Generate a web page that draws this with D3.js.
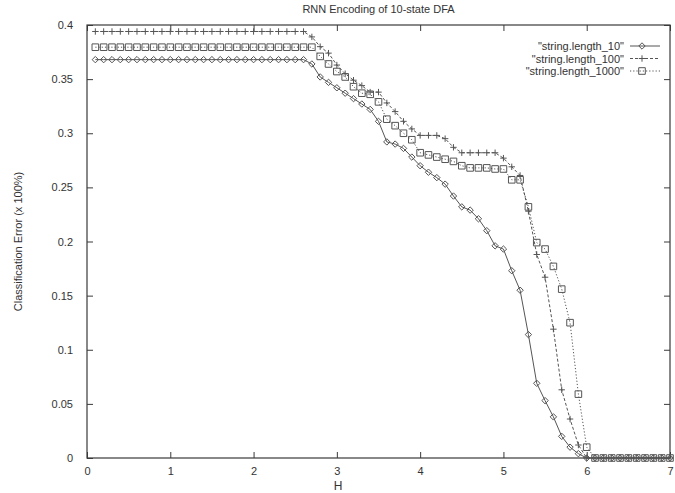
<!DOCTYPE html>
<html>
<head>
<meta charset="utf-8">
<script src="https://cdn.jsdelivr.net/npm/d3@7"></script>
<style>
  html, body { margin: 0; padding: 0; background: #fff; }
  svg text { font-family: "Liberation Sans", Arial, Helvetica, sans-serif; fill: #333; }
</style>
</head>
<body>
<svg id="chart" width="675" height="493"></svg>
<script>
// Hidden-unit count H (x axis)
const hValues = [
  0.1, 0.2, 0.3, 0.4, 0.5, 0.6, 0.7, 0.8, 0.9, 1.0,
  1.1, 1.2, 1.3, 1.4, 1.5, 1.6, 1.7, 1.8, 1.9, 2.0,
  2.1, 2.2, 2.3, 2.4, 2.5, 2.6, 2.7, 2.8, 2.9, 3.0,
  3.1, 3.2, 3.3, 3.4, 3.5, 3.6, 3.7, 3.8, 3.9, 4.0,
  4.1, 4.2, 4.3, 4.4, 4.5, 4.6, 4.7, 4.8, 4.9, 5.0,
  5.1, 5.2, 5.3, 5.4, 5.5, 5.6, 5.7, 5.8, 5.9, 6.0,
  6.1, 6.2, 6.3, 6.4, 6.5, 6.6, 6.7, 6.8, 6.9, 7.0
];

// Classification error for string length 10
const errLen10 = [
  0.368, 0.368, 0.368, 0.368, 0.368, 0.368, 0.368, 0.368, 0.368, 0.368,
  0.368, 0.368, 0.368, 0.368, 0.368, 0.368, 0.368, 0.368, 0.368, 0.368,
  0.368, 0.368, 0.368, 0.368, 0.368, 0.368, 0.364, 0.352, 0.347, 0.342,
  0.337, 0.332, 0.327, 0.322, 0.311, 0.292, 0.290, 0.286, 0.278, 0.270,
  0.264, 0.259, 0.253, 0.242, 0.232, 0.229, 0.221, 0.210, 0.196, 0.193,
  0.173, 0.155, 0.114, 0.069, 0.053, 0.038, 0.020, 0.010, 0.004, 0,
  0, 0, 0, 0, 0, 0, 0, 0, 0, 0
];

// Classification error for string length 100
const errLen100 = [
  0.394, 0.394, 0.394, 0.394, 0.394, 0.394, 0.394, 0.394, 0.394, 0.394,
  0.394, 0.394, 0.394, 0.394, 0.394, 0.394, 0.394, 0.394, 0.394, 0.394,
  0.394, 0.394, 0.394, 0.394, 0.394, 0.394, 0.389, 0.380, 0.374, 0.363,
  0.355, 0.349, 0.344, 0.338, 0.338, 0.328, 0.320, 0.311, 0.304, 0.298,
  0.298, 0.298, 0.295, 0.287, 0.282, 0.282, 0.282, 0.282, 0.282, 0.277,
  0.269, 0.261, 0.228, 0.188, 0.167, 0.119, 0.063, 0.036, 0.012, 0,
  0, 0, 0, 0, 0, 0, 0, 0, 0, 0
];

// Classification error for string length 1000
const errLen1000 = [
  0.3795, 0.3795, 0.3795, 0.3795, 0.3795, 0.3795, 0.3795, 0.3795, 0.3795, 0.3795,
  0.3795, 0.3795, 0.3795, 0.3795, 0.3795, 0.3795, 0.3795, 0.3795, 0.3795, 0.3795,
  0.3795, 0.3795, 0.3795, 0.3795, 0.3795, 0.3795, 0.3795, 0.371, 0.364, 0.357,
  0.352, 0.343, 0.337, 0.336, 0.329, 0.313, 0.307, 0.300, 0.294, 0.282,
  0.280, 0.278, 0.276, 0.274, 0.270, 0.268, 0.268, 0.268, 0.267, 0.267,
  0.257, 0.257, 0.232, 0.199, 0.193, 0.177, 0.156, 0.125, 0.059, 0.010,
  0, 0, 0, 0, 0, 0, 0, 0, 0, 0
];

const seriesNames = ['"string.length_10"', '"string.length_100"', '"string.length_1000"'];
const xTicks = [0, 1, 2, 3, 4, 5, 6, 7];
const yTicks = [0, 0.05, 0.1, 0.15, 0.2, 0.25, 0.3, 0.35, 0.4];
const yTickLabels = ["0", "0.05", "0.1", "0.15", "0.2", "0.25", "0.3", "0.35", "0.4"];

const svg = d3.select("#chart");
const plotL = 87, plotR = 670, plotT = 25, plotB = 458;

const x = d3.scaleLinear().domain([0, 7]).range([plotL, plotR]);
const y = d3.scaleLinear().domain([0, 0.4]).range([plotB, plotT]);

const ink = "#3a3a3a";
const lineInk = "#555";

// Frame
svg.append("rect")
  .attr("x", plotL).attr("y", plotT)
  .attr("width", plotR - plotL).attr("height", plotB - plotT)
  .attr("fill", "none").attr("stroke", ink).attr("stroke-width", 1.2);

// Axes with inward ticks (gnuplot style, mirrored on all sides)
const tickLen = 6;
const xAxisB = d3.axisBottom(x).tickValues(xTicks).tickSizeInner(-tickLen).tickSizeOuter(0).tickPadding(9).tickFormat(d3.format("d"));
const xAxisT = d3.axisTop(x).tickValues(xTicks).tickSizeInner(-tickLen).tickSizeOuter(0).tickFormat("");
const yAxisL = d3.axisLeft(y).tickValues(yTicks).tickSizeInner(-tickLen).tickSizeOuter(0).tickPadding(14)
  .tickFormat((d, i) => yTickLabels[i]);
const yAxisR = d3.axisRight(y).tickValues(yTicks).tickSizeInner(-tickLen).tickSizeOuter(0).tickFormat("");

function styleAxis(g) {
  g.select(".domain").remove();
  g.selectAll(".tick line").attr("stroke", ink).attr("stroke-width", 1);
  g.selectAll(".tick text").attr("font-size", 11).attr("fill", "#333")
    .style("font-family", '"Liberation Sans", Arial, sans-serif');
}

svg.append("g").attr("transform", `translate(0,${plotB})`).call(xAxisB).call(styleAxis);
svg.append("g").attr("transform", `translate(0,${plotT})`).call(xAxisT).call(styleAxis);
svg.append("g").attr("transform", `translate(${plotL},0)`).call(yAxisL).call(styleAxis);
svg.append("g").attr("transform", `translate(${plotR},0)`).call(yAxisR).call(styleAxis);

// Title and axis labels
svg.append("text").attr("x", (plotL + plotR) / 2).attr("y", 13)
  .attr("text-anchor", "middle").attr("font-size", 11).text("RNN Encoding of 10-state DFA");
svg.append("text").attr("x", 338).attr("y", 490)
  .attr("text-anchor", "middle").attr("font-size", 12).text("H");
svg.append("text")
  .attr("transform", `translate(22,${(plotT + plotB) / 2}) rotate(-90)`)
  .attr("text-anchor", "middle").attr("font-size", 11).text("Classification Error (x 100%)");

// Marker shapes
const markerPaths = {
  diamond: s => `M0,${-s}L${s},0L0,${s}L${-s},0Z`,
  plus: s => `M${-s},0H${s}M0,${-s}V${s}`,
  square: s => `M${-s},${-s}H${s}V${s}H${-s}Z`
};

const series = [
  { name: seriesNames[0], values: errLen10, dash: null, marker: "diamond", size: 3.2 },
  { name: seriesNames[1], values: errLen100, dash: "3,2", marker: "plus", size: 3.2 },
  { name: seriesNames[2], values: errLen1000, dash: "1.2,2", marker: "square", size: 3.3 }
];

const line = d3.line().x(d => x(d[0])).y(d => y(d[1]));

const plot = svg.append("g");
series.forEach(s => {
  const pts = hValues.map((h, i) => [h, s.values[i]]);
  plot.append("path")
    .datum(pts)
    .attr("d", line)
    .attr("fill", "none")
    .attr("stroke", lineInk)
    .attr("stroke-width", 1)
    .attr("stroke-dasharray", s.dash);
  plot.selectAll(null)
    .data(pts)
    .enter().append("path")
    .attr("transform", d => `translate(${x(d[0])},${y(d[1])})`)
    .attr("d", markerPaths[s.marker](s.size))
    .attr("fill", "none")
    .attr("stroke", lineInk)
    .attr("stroke-width", 1);
});

// Legend
const legend = svg.append("g");
const legTextX = 624, legLine0 = 630, legLine1 = 660;
series.forEach((s, i) => {
  const ly = 46 + i * 12.5;
  legend.append("text").attr("x", legTextX).attr("y", ly + 4)
    .attr("text-anchor", "end").attr("font-size", 11).text(s.name);
  legend.append("line").attr("x1", legLine0).attr("x2", legLine1).attr("y1", ly).attr("y2", ly)
    .attr("stroke", lineInk).attr("stroke-width", 1).attr("stroke-dasharray", s.dash);
  legend.append("path")
    .attr("transform", `translate(${(legLine0 + legLine1) / 2 - 3},${ly})`)
    .attr("d", markerPaths[s.marker](s.size))
    .attr("fill", "none").attr("stroke", lineInk).attr("stroke-width", 1);
});
</script>
</body>
</html>
